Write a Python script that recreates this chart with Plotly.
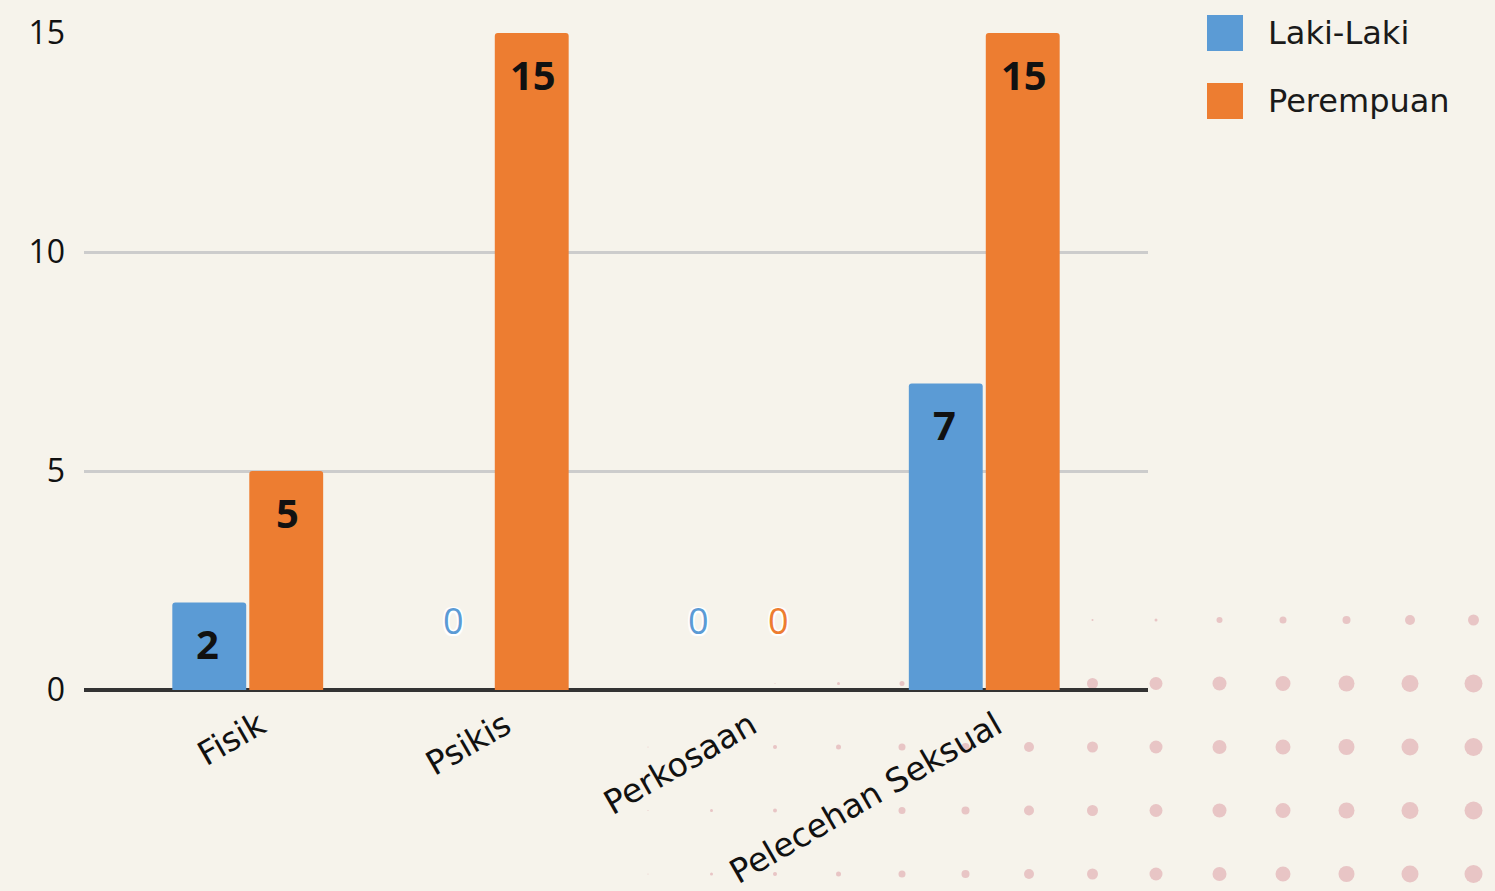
import plotly.graph_objects as go

# data
categories = ["Fisik", "Psikis", "Perkosaan", "Pelecehan Seksual"]
laki_laki = [2, 0, 0, 7]
perempuan = [5, 15, 0, 15]
y_ticks = [0, 5, 10, 15]

BLUE = "#5b9bd5"
ORANGE = "#ed7d31"
BG = "#f6f3eb"
DOT = "#e8c5c5"
FONT = "Open Sans"
FONT2 = "DejaVu Sans"

# plot area in pixels (used for the decoration / legend placement)
L, R, T, B = 84, 347, 33, 201
W, H = 1495, 891
PW, PH = W - L - R, H - T - B


def px_x(px):
    return (px - L) / PW


def px_y(py):
    return (H - B - py) / PH


fig = go.Figure()
fig.add_trace(go.Bar(name="Laki-Laki", x=categories, y=laki_laki,
                     marker=dict(color=BLUE, cornerradius=3, line=dict(width=0))))
fig.add_trace(go.Bar(name="Perempuan", x=categories, y=perempuan,
                     marker=dict(color=ORANGE, cornerradius=3, line=dict(width=0))))

# value labels
halo = ("1.5px 1.5px 1px white, -1.5px -1.5px 1px white, "
        "1.5px -1.5px 1px white, -1.5px 1.5px 1px white")
annotations = []
for vals, color, shift in [(laki_laki, BLUE, -40), (perempuan, ORANGE, 40)]:
    for cat, v in zip(categories, vals):
        if v > 0:
            annotations.append(dict(
                x=cat, y=v, text=str(v), showarrow=False, xshift=shift,
                yshift=-41, yanchor="middle",
                font=dict(family=FONT, size=40, color="#111", weight="bold")))
        else:
            annotations.append(dict(
                x=cat, y=v, text=str(v), showarrow=False, xshift=shift,
                yshift=70, yanchor="middle",
                font=dict(family=FONT, size=36, color=color, shadow=halo)))

# legend (drawn by hand for the large swatches)
shapes = []
for i, (name, color) in enumerate([("Laki-Laki", BLUE), ("Perempuan", ORANGE)]):
    cy = 33 + 68 * i
    shapes.append(dict(type="rect", xref="paper", yref="paper",
                       xsizemode="pixel", ysizemode="pixel",
                       xanchor=px_x(1225), yanchor=px_y(cy),
                       x0=-18, x1=18, y0=-18, y1=18,
                       fillcolor=color, line=dict(width=0)))
    annotations.append(dict(xref="paper", yref="paper", x=px_x(1266), y=px_y(cy),
                            xanchor="left", yanchor="middle", showarrow=False,
                            text=name, font=dict(family=FONT2, size=32, color="#1a1a1a")))

# decorative dot grid (bottom right)
dot_cols = [648 + 63.5 * i for i in range(14)]
dot_rows = [620, 683.5, 747, 810.5, 874]
dot_sizes = [
    [0, 0, 0, 0, 0, 0, 0, 2, 3, 6, 7, 8, 10, 11],
    [0, 0, 1, 3, 5, 7, 9, 11, 13, 14, 15, 16, 17, 18],
    [1, 2, 4, 5, 7, 8, 10, 11, 13, 14, 15, 16, 17, 18],
    [1, 3, 4, 5, 7, 8, 10, 11, 13, 14, 15, 16, 17, 18],
    [1, 3, 4, 5, 7, 8, 10, 11, 13, 14, 15, 16, 17, 18],
]
for ry, row in zip(dot_rows, dot_sizes):
    for cx, d in zip(dot_cols, row):
        if d <= 0:
            continue
        r = d / 2
        shapes.append(dict(type="circle", layer="below", xref="paper", yref="paper",
                           xsizemode="pixel", ysizemode="pixel",
                           xanchor=px_x(cx), yanchor=px_y(ry),
                           x0=-r, x1=r, y0=-r, y1=r,
                           fillcolor=DOT, line=dict(width=0)))

fig.update_layout(
    width=W, height=H,
    margin=dict(l=L, r=R, t=T, b=B),
    paper_bgcolor=BG, plot_bgcolor="rgba(0,0,0,0)",
    barmode="group", bargap=0.373, bargroupgap=0.04,
    showlegend=False,
    font=dict(family=FONT, color="#111"),
    annotations=annotations,
    shapes=shapes,
    xaxis=dict(type="category", range=[-0.667, 3.667], tickangle=-30,
               tickfont=dict(family=FONT2, size=33, color="#111"), ticks="",
               showgrid=False, showline=False, ticklabelshift=12,
               ticklabelstandoff=9, automargin=False),
    yaxis=dict(range=[0, 15], tickvals=y_ticks, tickfont=dict(size=32, color="#111"),
               ticks="", ticklabelstandoff=18, gridcolor="#cccccc", gridwidth=3,
               zeroline=True, zerolinecolor="#333333", zerolinewidth=4,
               showline=False, automargin=False),
)

fig.write_html("out.html", config={"displayModeBar": False},
               post_script="document.body.style.margin='0';"
                           "document.body.style.overflow='hidden';")
